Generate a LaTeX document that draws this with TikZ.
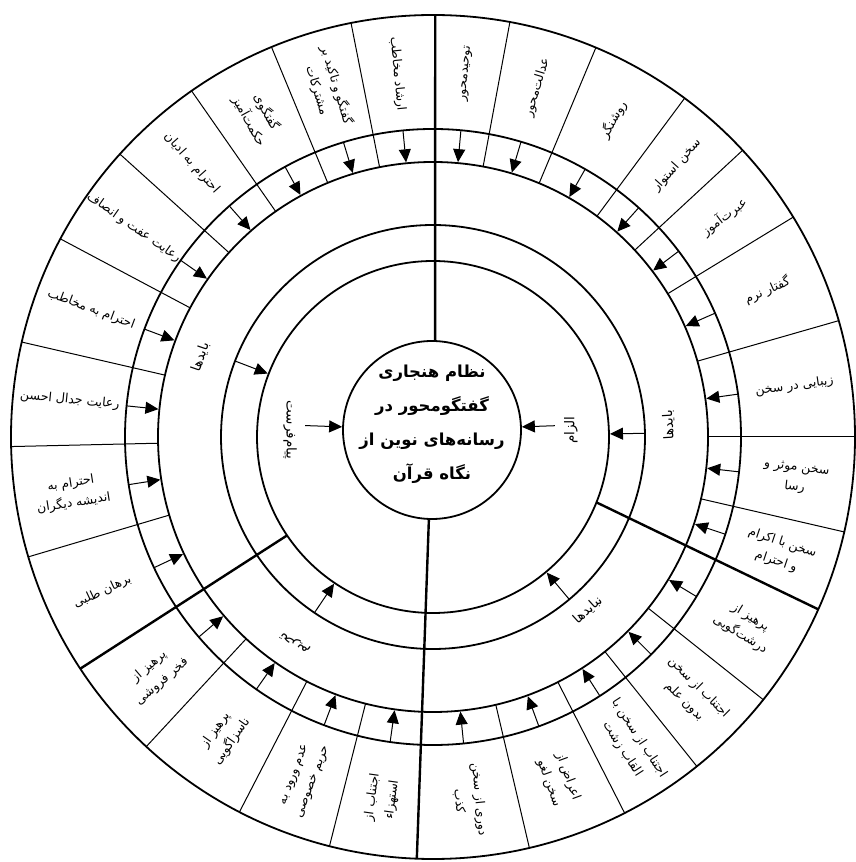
\documentclass[tikz,border=0pt]{standalone}
\usepackage{fontspec}
\usetikzlibrary{arrows.meta,calc}
\newfontfamily\fa[Script=Arabic]{DejaVu Sans}
\TeXXeTstate=1
\newcommand\rl[1]{\beginR #1\endR}
\begin{document}
\begin{tikzpicture}[x=1pt,y=1pt,
  ring/.style={line width=1.8pt},
  bigline/.style={line width=2.4pt},
  sepline/.style={line width=1pt},
  arr/.style={line width=1pt,-{Triangle[length=13pt,width=12pt]}},
  item/.style={font=\fa\fontsize{12.5}{20}\selectfont,align=center,inner sep=1pt},
  bandlabel/.style={font=\fa\fontsize{13.5}{15}\selectfont,inner sep=1pt},
  title/.style={font=\fa\bfseries\fontsize{16.5}{34}\selectfont,align=center,inner sep=0pt}]
\useasboundingbox (0,0) rectangle (856,862);
\fill[white] (0,0) rectangle (856,862);
\coordinate (C) at (433,425);
\coordinate (C0) at (432,432);
% rings
\draw[ring] (C) circle[radius=422];
\draw[ring] (C) circle[radius=308];
\draw[ring] (C) circle[radius=275];
\draw[ring] (C) circle[radius=212];
\draw[ring] (C) circle[radius=176];
\node[draw,circle,minimum size=178pt,inner sep=0pt,ring] (core) at (C0) {};
\node[title] (ttl) at ($(C0)+(0,6)$) {\rl{نظام هنجاری}\\\rl{گفتگومحور در}\\\rl{رسانه^^^^200cهای نوین از}\\\rl{نگاه قرآن}};
% main dividers
\draw[bigline] (core.88) -- ($(C)+(89.7:422)$);
\draw[bigline] (core.268) -- ($(C)+(267.8:422)$);
\draw[bigline] ($(C)+(-21.8:176)$) -- ($(C)+(-24.1:422)$);
\draw[bigline] ($(C)+(214:176)$) -- ($(C)+(213.3:422)$);
% thin dividers
\foreach \a in {101.2,112.5,124.9,137.9,152,167,181.3,196.5,
                227.2,242.7,255.8,
                -76.8,-63,-51.3,-38.5,
                -13,0,16,31.4,42.8,53.4,67.3,79.5}
  \draw[sepline] ($(C)+(\a:275)$) -- ($(C)+(\a:422)$);
% arrows in the arrow band
\foreach \a in {95.6,106.9,118.7,131.4,145,159.5,174.2,188.9,205.1,
                220.5,235,249.3,262,
                -84.3,-69.9,-57.2,-44.9,-31.2,
                -18.4,-6.5,8,23.7,37.1,48.1,60.4,73.4,84.8}
  \draw[arr] ($(C)+(\a:308)$) -- ($(C)+(\a:276)$);
% ring arrows
\foreach \a in {159,1,236,-50}
  \draw[arr] ($(C)+(\a:212)$) -- ($(C)+(\a:177)$);
% arrows to the core
\draw[arr] ($(C0)+(2:123)$) -- (core.2);
\draw[arr] ($(C0)+(178:127)$) -- (core.178);
% band labels
\node[bandlabel,rotate=93] (b1) at ($(C)+(3:236)$) {\rl{بایدها}};
\node[bandlabel,rotate=71] (b2) at ($(C)+(161:246)$) {\rl{بایدها}};
\node[bandlabel,rotate=42] (b3) at ($(C)+(-48.2:232)$) {\rl{نبایدها}};
\node[bandlabel,rotate=146] (b4) at ($(C)+(236.2:248)$) {\rl{تحریم}};
\node[bandlabel,rotate=90] (p1) at ($(C0)+(0:139)$) {\rl{الزام}};
\node[bandlabel,rotate=-90] (p2) at ($(C0)+(180:142)$) {\rl{پیام^^^^200cفرست}};
% items, right half
\foreach \a/\t [count=\i] in {
  84.8/{\rl{توحیدمحور}},
  73.4/{\rl{عدالت^^^^200cمحور}},
  60.4/{\rl{روشنگر}},
  48.1/{\rl{سخن استوار}},
  37.1/{\rl{عبرت^^^^200cآموز}},
  23.7/{\rl{گفتار نرم}},
  8/{\rl{زیبایی در سخن}},
  -6.5/{\rl{سخن موثر و}\\\rl{رسا}},
  -18.4/{\rl{سخن با اکرام}\\\rl{و احترام}},
  -31.2/{\rl{پرهیز از}\\\rl{درشت^^^^200cگویی}},
  -44.9/{\rl{اجتناب از سخن}\\\rl{بدون علم}},
  -57.2/{\rl{اجتناب از سخن با}\\\rl{القاب زشت}},
  -69.9/{\rl{اعراض از}\\\rl{سخن لغو}},
  -84.3/{\rl{دوری از سخن}\\\rl{کذب}}}
  \node[item,rotate=\a] (R\i) at ($(C)+(\a:365)$) {\t};
% items, left half
\foreach \a/\t [count=\i] in {
  95.6/{\rl{ارشاد مخاطب}},
  106.9/{\rl{گفتگو و تاکید بر}\\\rl{مشترکات}},
  118.7/{\rl{گفتگوی}\\\rl{حکمت^^^^200cآمیز}},
  131.4/{\rl{احترام به ادیان}},
  145/{\rl{رعایت عفت و انصاف}},
  159.5/{\rl{احترام به مخاطب}},
  174.2/{\rl{رعایت جدال احسن}},
  188.9/{\rl{احترام به}\\\rl{اندیشه دیگران}},
  205.1/{\rl{برهان طلبی}},
  220.5/{\rl{پرهیز از}\\\rl{فخر فروشی}},
  235/{\rl{پرهیز از}\\\rl{ناسزاگویی}},
  249.3/{\rl{عدم ورود به}\\\rl{حریم خصوصی}},
  262/{\rl{اجتناب از}\\\rl{استهزاء}}}
  \node[item,rotate=\a-180] (L\i) at ($(C)+(\a:365)$) {\t};
\end{tikzpicture}
\end{document}
